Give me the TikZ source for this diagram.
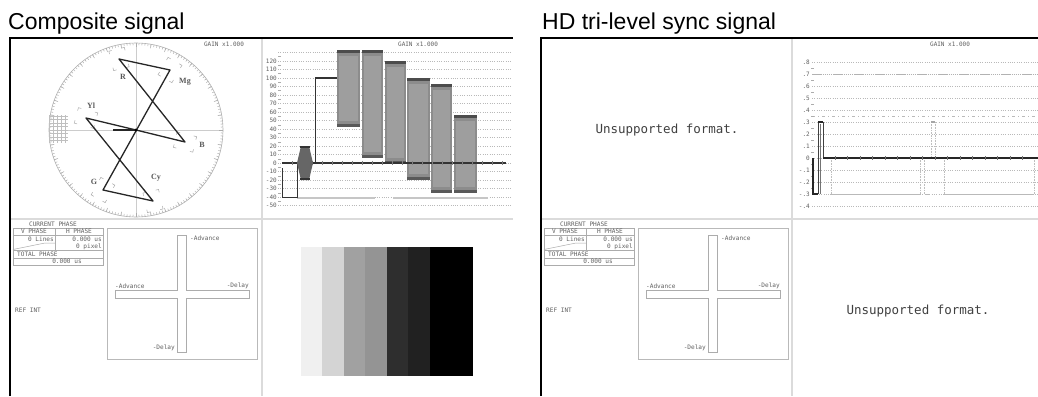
\documentclass[tikz,border=0pt]{standalone}
\usepackage{fontspec}
\setmainfont{Liberation Sans}
\newfontfamily\monof{DejaVu Sans Mono}
\newfontfamily\seriff{Liberation Serif}
\begin{document}
\begin{tikzpicture}[x=1pt,y=-1pt,
  title/.style={font=\fontsize{23}{23}\selectfont, anchor=base west, inner sep=0},
  frame/.style={black, line width=1.6pt},
  divider/.style={gray!28, line width=1.6pt},
  gridln/.style={gray!55, line width=0.6pt, dash pattern=on 1pt off 1.3pt},
  denseln/.style={gray!60, line width=0.7pt, dash pattern=on 1.5pt off 0.6pt},
  dashdotln/.style={gray!55, line width=0.7pt, dash pattern=on 3pt off 3pt on 1pt off 3pt},
  small/.style={font=\monof\fontsize{6}{6}\selectfont, text=gray!75!black, inner sep=0},
  tiny/.style={font=\monof\fontsize{6.1}{6.1}\selectfont, text=gray!75!black, inner sep=0},
  msg/.style={font=\monof\fontsize{12.5}{12.5}\selectfont, text=black!75, inner sep=0},
  vlab/.style={font=\seriff\bfseries\fontsize{8}{8}\selectfont, text=black!65, inner sep=0},
  trace/.style={black!85, line width=1.3pt, line join=round},
  faint/.style={gray!55, line width=0.8pt},
  faintdot/.style={gray!50, line width=0.5pt, dash pattern=on 0.8pt off 0.8pt},
  hair/.style={gray!65, line width=0.5pt},
  phasedisp/.pic={
    \node[tiny] (cur) at (53,224.5) {CURRENT PHASE};
    \draw[hair] (13,228) rectangle (103,265);
    \draw[hair] (13,235) -- (103,235);
    \draw[hair] (13,250) -- (103,250);
    \draw[hair] (13,258) -- (103,258);
    \draw[hair] (55,228) -- (55,250);
    \draw[hair] (13,249.5) -- (45,243) -- (55,243);
    \node[tiny] (vph) at (34,231.5) {V PHASE};
    \node[tiny] (hph) at (79,231.5) {H PHASE};
    \node[tiny, anchor=east] (vval) at (54,239) {0 Lines};
    \node[tiny, anchor=east] (hval) at (102,239) {0.000 us};
    \node[tiny, anchor=east] (pval) at (102,246.5) {0 pixel};
    \node[tiny, anchor=west] (tph) at (17,254) {TOTAL PHASE};
    \node[tiny] (tval) at (67,261.5) {0.000 us};
    \node[tiny, anchor=west] (ref) at (15,310) {REF INT};
    \draw[hair, gray!55, line width=0.7pt] (107,228) rectangle (257,359);
    \draw[hair, line width=0.7pt] (177,235) -- (186,235) -- (186,290) -- (249,290) -- (249,298)
      -- (186,298) -- (186,352) -- (177,352) -- (177,298) -- (115,298) -- (115,290)
      -- (177,290) -- cycle;
    \node[tiny, anchor=west] (adv1) at (190,238.5) {-Advance};
    \node[tiny, anchor=south west] (adv2) at (115,288.5) {-Advance};
    \node[tiny, anchor=south east] (del1) at (249,288.5) {-Delay};
    \node[tiny, anchor=east] (del2) at (175,348) {-Delay};
  }
]
\useasboundingbox (0,0) rectangle (1038,396);
\fill[white] (0,0) rectangle (1038,396);

% ---------- titles and frames ----------
\node[title] (t1) at (8,30) {Composite signal};
\node[title] (t2) at (542,30) {HD tri-level sync signal};
\draw[divider] (262,38) -- (262,396);
\draw[divider] (10,219) -- (513,219);
\draw[divider] (792,38) -- (792,396);
\draw[divider] (541,219) -- (1038,219);
\draw[frame] (10,396) -- (10,38) -- (513,38);
\draw[frame] (541,396) -- (541,38) -- (1038,38);

% ---------- vectorscope ----------
\coordinate (vc) at (136,130);
\node[small] (vgain) at (224,44) {GAIN x1.000};
\draw[gray!40, line width=0.6pt] (49,130) -- (223,130);
\draw[gray!40, line width=0.6pt] (136,43) -- (136,217);
\draw[gray!60, line width=0.6pt] (vc) circle[radius=87];
\begin{scope}[shift={(136,130)}]
  \foreach \a in {0,2,...,358} \draw[hair] (\a:87) -- (\a:84.8);
  \foreach \a in {0,10,...,350} \draw[hair] (\a:87) -- (\a:83);
\end{scope}
\foreach \yy in {116,119.5,...,143} \draw[hair, gray!50] (49,\yy) -- (68,\yy);
\foreach \xx in {49,53,...,68} \draw[hair, gray!50] (\xx,115) -- (\xx,143);
\coordinate (vYl) at (86,118);
\coordinate (vCy) at (153,201);
\coordinate (vG) at (103,190);
\coordinate (vMg) at (170,70);
\coordinate (vR) at (119,59);
\coordinate (vB) at (185,142);
\foreach \p/\ang in {vYl/165, vCy/283, vG/241, vMg/60, vR/104, vB/346} {
  \begin{scope}[shift={(\p)}, rotate=\ang]
    \draw[hair] (-10,-5) -- (-10,-8) -- (-7,-8);
    \draw[hair] (-10,5) -- (-10,8) -- (-7,8);
    \draw[hair] (10,-5) -- (10,-8) -- (7,-8);
    \draw[hair] (10,5) -- (10,8) -- (7,8);
  \end{scope}
}
\draw[trace] (vc) -- (vYl) -- (vCy) -- (vG) -- (vMg) -- (vR) -- (vB) -- cycle;
\coordinate (vblk) at (113,130);
\draw[trace, line width=1.6pt] (vblk) -- (vc);
\fill[black] (vc) circle[radius=1.6];
\node[vlab] (lR) at (123,77) {R};
\node[vlab] (lMg) at (185,82) {Mg};
\node[vlab] (lYl) at (91,106) {Yl};
\node[vlab] (lB) at (202,145) {B};
\node[vlab] (lG) at (94,182) {G};
\node[vlab] (lCy) at (156,178) {Cy};

% ---------- composite waveform ----------
\node[small] (wgain) at (418,44) {GAIN x1.000};
\foreach \v in {130,120,...,-50} \draw[gridln] (278,{163-0.85*\v}) -- (512,{163-0.85*\v});
\foreach \v [count=\i] in {120,110,...,-50} \node[small, anchor=east] (wl\i) at (277,{163-0.85*\v}) {\v};
\foreach \v in {125,115,...,-45} \draw[hair] (278,{163-0.85*\v}) -- (281,{163-0.85*\v});
\draw[faint, gray!45, line width=1.4pt] (297,198) -- (375,198);
\draw[faint, gray!45, line width=1.4pt] (393,198) -- (488,198);
\foreach \xa/\xb/\ta/\ba in {337/360/50/127, 362/383/50/158, 385/406/61/164, 407/430/78/180, 431/452/84/193, 454/477/115/193} {
  \fill[black!45] (\xa,\ta) rectangle (\xb,\ba);
  \fill[black!38] ({\xa+2},{\ta+6}) rectangle ({\xb-2},{\ba-6});
  \fill[black!70] (\xa,\ta) rectangle (\xb,{\ta+3});
  \fill[black!65] (\xa,{\ba-3}) rectangle (\xb,\ba);
}
\draw[black!80, line width=1.2pt] (282,163) -- (506,163);
\foreach \x in {292,302,...,502} \draw[black!50, line width=0.5pt] (\x,161) -- (\x,165);
\coordinate (s0) at (282,168);
\coordinate (s1) at (282,197);
\coordinate (s2) at (297,197);
\coordinate (s3) at (297,163);
\draw[black!80, line width=1pt] (s0) -- (s1) -- (s2) -- (s3);
\fill[black!60] (297,163) -- (301,146) -- (309,146) -- (313,163) -- (309,180) -- (301,180) -- cycle;
\fill[black!80] (300,146) rectangle (310,148);
\fill[black!80] (300,178) rectangle (310,180);
\coordinate (w0) at (315,163);
\coordinate (w1) at (315,78);
\coordinate (w2) at (337,78);
\draw[black!80, line width=1pt] (w0) -- (w1) -- (w2);
\draw[black!80, line width=2pt] (w1) -- (w2);

% ---------- gray scale bars ----------
\foreach \xa/\xb/\cc in {301/322/black!6, 322/344/black!17, 344/365/black!37, 365/387/black!42,
                       387/408/black!82, 408/430/black!87, 430/473/black} {
  \fill[\cc] (\xa,247) rectangle (\xb,376);
}

% ---------- phase displays ----------
\pic (pl) at (0,0) {phasedisp};
\pic (pr) at (531,0) {phasedisp};

% ---------- HD tri-level panel ----------
\node[msg] (un1) at (667,130) {Unsupported format.};
\node[msg] (un2) at (918,311) {Unsupported format.};
\node[small] (hgain) at (950,44) {GAIN x1.000};
\foreach \v in {0.8,0.6,0.5,0.4,0.3,0.2,0.1,0,-0.1,-0.2,-0.3,-0.4} \draw[gridln] (812,{158-120*\v}) -- (1038,{158-120*\v});
\draw[denseln] (812,74) -- (1038,74);
\draw[dashdotln] (812,116) -- (1038,116);
\foreach \tx/\v [count=\i] in {.8/0.8,.7/0.7,.6/0.6,.5/0.5,.4/0.4,.3/0.3,.2/0.2,.1/0.1,0/0,-.1/-0.1,-.2/-0.2,-.3/-0.3,-.4/-0.4}
  \node[small, anchor=east] (hl\i) at (810,{158-120*\v}) {\tx};
\foreach \v in {0.75,0.65,...,-0.35} \draw[hair] (811,{158-120*\v}) -- (814,{158-120*\v});
% faint secondary trace
\draw[faintdot] (831,158) -- (831,194);
\draw[faint] (831,194) -- (920,194);
\draw[faintdot] (920,194) -- (920,158);
\draw[faintdot] (924,194) -- (924,158);
\draw[faint] (925,194) -- (929,194);
\draw[faintdot] (931,158) -- (931,122) -- (935,122) -- (935,158);
\draw[faint, gray!70, line width=1.2pt] (931,122) -- (935,122);
\draw[faintdot] (944,158) -- (944,194);
\draw[faint] (944,194) -- (1034,194);
\draw[faintdot] (1034,194) -- (1034,158);
% main trace
\coordinate (h0) at (813,158);
\coordinate (h1) at (813,194);
\coordinate (h2) at (818,194);
\coordinate (h3) at (818,122);
\coordinate (h4) at (823,122);
\coordinate (h5) at (823,158);
\draw[black!85, line width=1.3pt] (h0) -- (h1) -- (h2);
\draw[black!75, line width=0.8pt] (h2) -- (h3) -- (h4) -- (h5);
\draw[black!55, line width=0.5pt] (820.5,194) -- (820.5,124);
\draw[black!85, line width=1.6pt] (h3) -- (h4);
\draw[black!85, line width=1.5pt] (h5) -- (1038,158);
\foreach \x in {835,847.5,...,1030} \draw[black!55, line width=0.5pt] (\x,156) -- (\x,160);
\end{tikzpicture}
\end{document}
